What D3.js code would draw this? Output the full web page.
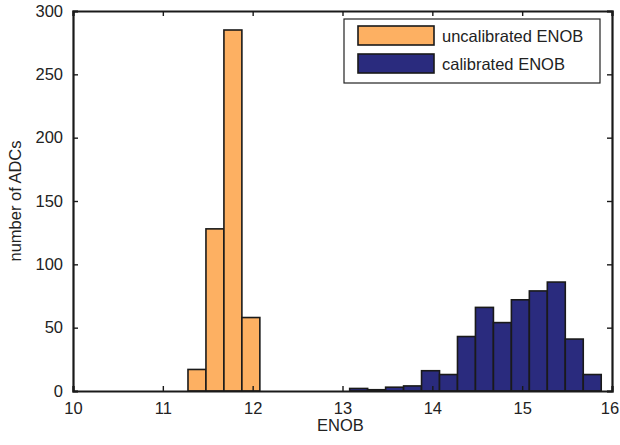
<!DOCTYPE html>
<html><head><meta charset="utf-8">
<script src="https://cdn.jsdelivr.net/npm/d3@7"></script>
<style>body{margin:0;background:#fff}svg{display:block}text{font-family:"Liberation Sans",Arial,sans-serif;fill:#222}</style>
</head><body><svg id="c" width="620" height="445"></svg>
<script>
const binWidth = 0.2;
const uncalCenters = [11.38, 11.58, 11.78, 11.98];
const uncalCounts = [17, 128, 285, 58];
const calCenters = [13.18, 13.38, 13.58, 13.78, 13.98, 14.18, 14.38, 14.58, 14.78, 14.98, 15.18, 15.38, 15.58, 15.78];
const calCounts = [2, 1, 3, 4, 16, 13, 43, 66, 54, 72, 79, 86, 41, 13];
const xTicks = [10, 11, 12, 13, 14, 15, 16];
const yTicks = [0, 50, 100, 150, 200, 250, 300];
const seriesNames = ["uncalibrated ENOB", "calibrated ENOB"];
const colors = ["#FDB062", "#2A2B7E"];

const FS = "16.5px";
const svg = d3.select("#c");
const L = 73, R = 612, T = 11, B = 391;
const x = d3.scaleLinear().domain([10, 16]).range([L, R]);
const y = d3.scaleLinear().domain([0, 300]).range([B, T]);

function drawBars(centers, counts, color) {
  svg.append("g").selectAll("rect").data(centers).join("rect")
    .attr("x", d => x(d - binWidth / 2))
    .attr("width", d => x(d + binWidth / 2) - x(d - binWidth / 2))
    .attr("y", (d, i) => y(counts[i]))
    .attr("height", (d, i) => y(0) - y(counts[i]))
    .attr("fill", color).attr("stroke", "#1a1a1a").attr("stroke-width", 1.6);
}
drawBars(uncalCenters, uncalCounts, colors[0]);
drawBars(calCenters, calCounts, colors[1]);

// axes (ticks inside, MATLAB box)
const tl = 5;
const xb = svg.append("g").attr("transform", `translate(0,${B})`)
  .call(d3.axisBottom(x).tickValues(xTicks).tickSize(-tl).tickPadding(11).tickFormat(d3.format("d")));
const xt = svg.append("g").attr("transform", `translate(0,${T})`)
  .call(d3.axisTop(x).tickValues(xTicks).tickSize(-tl).tickFormat(""));
const yl = svg.append("g").attr("transform", `translate(${L},0)`)
  .call(d3.axisLeft(y).tickValues(yTicks).tickSize(-tl).tickPadding(10).tickFormat(d3.format("d")));
const yr = svg.append("g").attr("transform", `translate(${R},0)`)
  .call(d3.axisRight(y).tickValues(yTicks).tickSize(-tl).tickFormat(""));
[xb, xt, yl, yr].forEach(g => {
  g.select(".domain").attr("stroke", "#1a1a1a").attr("stroke-width", 2.2);
  g.selectAll(".tick line").attr("stroke", "#1a1a1a").attr("stroke-width", 1.4);
  g.selectAll("text").style("font-size", FS).attr("fill", "#222");
});
// keep the last x label inside the page
xb.selectAll(".tick").filter(d => d === 16).select("text").attr("dx", -2.5);

svg.append("text").attr("x", (L + R) / 2 - 2).attr("y", 431).attr("text-anchor", "middle")
  .style("font-size", FS).text("ENOB");
svg.append("text").attr("transform", `translate(21,${(T + B) / 2}) rotate(-90)`).attr("text-anchor", "middle")
  .style("font-size", FS).text("number of ADCs");

// legend
const lg = svg.append("g");
lg.append("rect").attr("x", 344).attr("y", 19).attr("width", 256).attr("height", 64)
  .attr("fill", "#fff").attr("stroke", "#222").attr("stroke-width", 1.2);
seriesNames.forEach((n, i) => {
  lg.append("rect").attr("x", 358).attr("y", 26 + i * 28).attr("width", 76).attr("height", 19)
    .attr("fill", colors[i]).attr("stroke", "#1a1a1a").attr("stroke-width", 1.6);
  lg.append("text").attr("x", 442).attr("y", 42 + i * 28).style("font-size", FS).text(n);
});
</script></body></html>
